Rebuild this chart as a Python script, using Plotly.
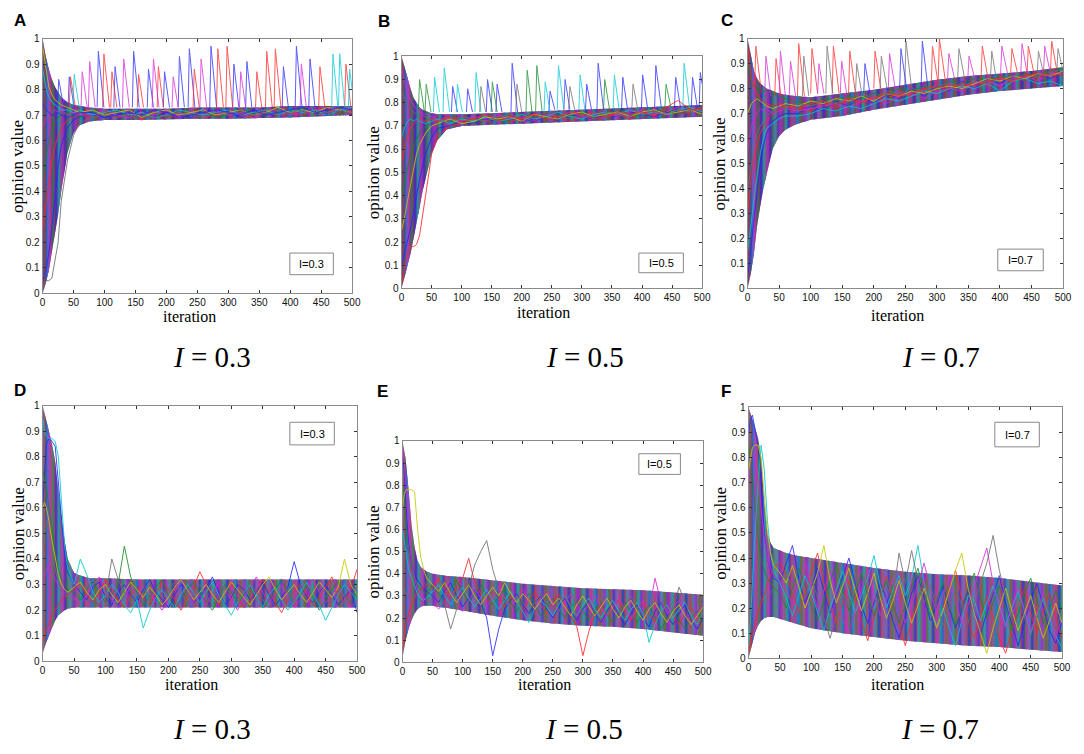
import plotly.graph_objects as go

# the page body keeps its 8px margin, so the figure is drawn 8px in from the window edge
PAGE_W, PAGE_H, BODY_MARGIN = 1084, 754, 8
W, H = PAGE_W - 2 * BODY_MARGIN, PAGE_H - 2 * BODY_MARGIN

ITER_TICKS = [0, 50, 100, 150, 200, 250, 300, 350, 400, 450, 500]
OPINION_TICKS = [0, 0.1, 0.2, 0.3, 0.4, 0.5, 0.6, 0.7, 0.8, 0.9, 1]
OPINION_LABELS = ["0", "0.1", "0.2", "0.3", "0.4", "0.5", "0.6", "0.7", "0.8", "0.9", "1"]

# iterations at which the envelope of all the opinion curves was read
ENV_X = [0, 5, 10, 15, 20, 25, 30, 35, 40, 50, 60, 75, 100, 150, 200, 250, 300, 350, 400, 450, 500]

A_UP = [1.0, 0.93, 0.88, 0.84, 0.81, 0.79, 0.77, 0.76, 0.75, 0.74, 0.735, 0.73, 0.725, 0.725, 0.725, 0.73, 0.73, 0.73, 0.735, 0.735, 0.735]
A_LO = [0.0, 0.04, 0.09, 0.17, 0.24, 0.31, 0.4, 0.48, 0.55, 0.63, 0.66, 0.675, 0.68, 0.68, 0.682, 0.685, 0.685, 0.688, 0.69, 0.695, 0.70]
B_UP = [1.0, 0.95, 0.9, 0.86, 0.82, 0.8, 0.78, 0.77, 0.765, 0.755, 0.75, 0.75, 0.75, 0.755, 0.76, 0.765, 0.77, 0.775, 0.78, 0.785, 0.79]
B_LO = [0.0, 0.05, 0.1, 0.15, 0.22, 0.28, 0.35, 0.42, 0.48, 0.58, 0.64, 0.685, 0.70, 0.705, 0.71, 0.715, 0.72, 0.725, 0.73, 0.735, 0.74]
C_UP = [1.0, 0.93, 0.87, 0.84, 0.82, 0.81, 0.8, 0.795, 0.79, 0.78, 0.775, 0.77, 0.765, 0.78, 0.795, 0.815, 0.835, 0.85, 0.86, 0.87, 0.885]
C_LO = [0.0, 0.06, 0.14, 0.25, 0.33, 0.4, 0.46, 0.51, 0.56, 0.61, 0.635, 0.655, 0.675, 0.69, 0.715, 0.735, 0.755, 0.775, 0.79, 0.80, 0.81]
D_UP = [1.0, 0.95, 0.9, 0.85, 0.78, 0.66, 0.56, 0.47, 0.4, 0.345, 0.335, 0.325, 0.325, 0.32, 0.32, 0.32, 0.32, 0.32, 0.32, 0.32, 0.32]
D_LO = [0.03, 0.07, 0.1, 0.13, 0.16, 0.18, 0.19, 0.2, 0.205, 0.21, 0.21, 0.21, 0.21, 0.21, 0.21, 0.21, 0.21, 0.21, 0.21, 0.21, 0.21]
E_UP = [1.0, 0.92, 0.78, 0.62, 0.52, 0.46, 0.43, 0.42, 0.41, 0.40, 0.395, 0.39, 0.385, 0.37, 0.355, 0.345, 0.335, 0.33, 0.325, 0.315, 0.305]
E_LO = [0.02, 0.1, 0.15, 0.19, 0.22, 0.24, 0.25, 0.255, 0.255, 0.255, 0.25, 0.245, 0.235, 0.21, 0.19, 0.175, 0.165, 0.16, 0.15, 0.135, 0.12]
F_UP = [1.0, 0.96, 0.92, 0.88, 0.8, 0.62, 0.5, 0.46, 0.44, 0.43, 0.42, 0.41, 0.4, 0.38, 0.36, 0.345, 0.335, 0.33, 0.32, 0.305, 0.29]
F_LO = [0.0, 0.05, 0.1, 0.13, 0.15, 0.16, 0.165, 0.165, 0.165, 0.16, 0.15, 0.14, 0.12, 0.1, 0.085, 0.07, 0.06, 0.05, 0.045, 0.035, 0.025]

# sample iterations for the individual agent curves
GRID_TOP = [0, 3, 6, 10, 15, 20, 25, 30, 40, 50, 60] + list(range(80, 501, 20))
GRID_BOTTOM = [0, 3, 6, 10, 15, 20, 25, 30, 35, 40, 50] + list(range(60, 501, 10))

A_LINES = [
    ("b", [0.05, 0.07, 0.1, 0.16, 0.26, 0.38, 0.5, 0.58, 0.65, 0.68, 0.695, 0.70, 0.69, 0.71, 0.70, 0.72, 0.69, 0.71, 0.70, 0.69, 0.72, 0.70, 0.71, 0.69, 0.72, 0.71, 0.70, 0.72, 0.71, 0.73, 0.70, 0.72, 0.71]),
    ("r", [0.25, 0.3, 0.36, 0.44, 0.52, 0.58, 0.62, 0.65, 0.68, 0.70, 0.71, 0.69, 0.71, 0.69, 0.70, 0.68, 0.71, 0.69, 0.70, 0.72, 0.69, 0.70, 0.71, 0.70, 0.69, 0.72, 0.70, 0.71, 0.70, 0.72, 0.73, 0.70, 0.72]),
    ("g", [0.45, 0.5, 0.55, 0.6, 0.64, 0.67, 0.69, 0.70, 0.71, 0.70, 0.69, 0.71, 0.70, 0.72, 0.69, 0.70, 0.71, 0.69, 0.72, 0.70, 0.71, 0.69, 0.70, 0.72, 0.71, 0.70, 0.72, 0.71, 0.73, 0.71, 0.72, 0.70, 0.73]),
    ("m", [0.65, 0.67, 0.69, 0.70, 0.71, 0.72, 0.71, 0.72, 0.70, 0.71, 0.70, 0.70, 0.72, 0.70, 0.69, 0.71, 0.70, 0.72, 0.69, 0.71, 0.70, 0.72, 0.70, 0.71, 0.69, 0.71, 0.72, 0.70, 0.71, 0.73, 0.71, 0.73, 0.72]),
    ("c", [0.88, 0.84, 0.8, 0.77, 0.75, 0.74, 0.73, 0.72, 0.72, 0.71, 0.72, 0.70, 0.71, 0.72, 0.70, 0.71, 0.69, 0.70, 0.72, 0.71, 0.70, 0.71, 0.72, 0.70, 0.71, 0.72, 0.70, 0.72, 0.71, 0.72, 0.70, 0.72, 0.73]),
    ("y", [0.97, 0.92, 0.86, 0.81, 0.78, 0.76, 0.75, 0.74, 0.73, 0.72, 0.71, 0.72, 0.70, 0.71, 0.72, 0.69, 0.71, 0.72, 0.70, 0.71, 0.72, 0.70, 0.71, 0.72, 0.70, 0.71, 0.73, 0.71, 0.72, 0.71, 0.73, 0.72, 0.71]),
    ("k", [0.02, 0.04, 0.05, 0.05, 0.06, 0.13, 0.2, 0.36, 0.52, 0.62, 0.67, 0.69, 0.70, 0.69, 0.71, 0.70, 0.69, 0.70, 0.71, 0.70, 0.69, 0.71, 0.70, 0.72, 0.70, 0.71, 0.70, 0.71, 0.72, 0.70, 0.71, 0.72, 0.71]),
    ("b", [0.75, 0.73, 0.72, 0.71, 0.70, 0.70, 0.71, 0.70, 0.69, 0.70, 0.71, 0.71, 0.69, 0.70, 0.71, 0.70, 0.72, 0.71, 0.69, 0.70, 0.71, 0.72, 0.71, 0.70, 0.72, 0.70, 0.71, 0.72, 0.73, 0.71, 0.72, 0.73, 0.72]),
]
B_LINES = [
    ("b", [0.1, 0.13, 0.16, 0.2, 0.26, 0.33, 0.4, 0.47, 0.58, 0.65, 0.69, 0.70, 0.72, 0.71, 0.73, 0.72, 0.74, 0.73, 0.72, 0.74, 0.73, 0.75, 0.74, 0.73, 0.75, 0.74, 0.76, 0.75, 0.74, 0.76, 0.75, 0.77, 0.76]),
    ("r", [0.02, 0.05, 0.1, 0.16, 0.18, 0.18, 0.19, 0.23, 0.4, 0.58, 0.66, 0.7, 0.71, 0.73, 0.72, 0.74, 0.72, 0.73, 0.75, 0.73, 0.74, 0.72, 0.74, 0.76, 0.74, 0.75, 0.73, 0.76, 0.75, 0.77, 0.75, 0.76, 0.78]),
    ("g", [0.4, 0.44, 0.48, 0.52, 0.57, 0.61, 0.64, 0.67, 0.7, 0.72, 0.73, 0.72, 0.73, 0.71, 0.74, 0.73, 0.72, 0.75, 0.74, 0.73, 0.75, 0.74, 0.76, 0.74, 0.75, 0.77, 0.75, 0.74, 0.76, 0.77, 0.75, 0.77, 0.76]),
    ("m", [0.95, 0.92, 0.88, 0.84, 0.81, 0.79, 0.77, 0.76, 0.75, 0.74, 0.73, 0.73, 0.72, 0.74, 0.73, 0.75, 0.73, 0.74, 0.72, 0.75, 0.74, 0.76, 0.74, 0.75, 0.76, 0.74, 0.76, 0.77, 0.75, 0.76, 0.78, 0.76, 0.77]),
    ("c", [0.65, 0.68, 0.7, 0.72, 0.73, 0.72, 0.73, 0.72, 0.71, 0.72, 0.73, 0.71, 0.73, 0.72, 0.74, 0.72, 0.73, 0.75, 0.73, 0.74, 0.76, 0.74, 0.73, 0.75, 0.76, 0.75, 0.77, 0.75, 0.76, 0.75, 0.77, 0.78, 0.76]),
    ("y", [0.25, 0.28, 0.32, 0.38, 0.45, 0.52, 0.58, 0.62, 0.67, 0.7, 0.71, 0.73, 0.71, 0.72, 0.74, 0.73, 0.74, 0.72, 0.75, 0.74, 0.73, 0.75, 0.76, 0.74, 0.75, 0.76, 0.74, 0.76, 0.77, 0.75, 0.76, 0.77, 0.75]),
    ("k", [0.85, 0.83, 0.81, 0.79, 0.77, 0.76, 0.75, 0.75, 0.74, 0.73, 0.72, 0.72, 0.74, 0.73, 0.72, 0.74, 0.75, 0.73, 0.74, 0.76, 0.74, 0.73, 0.75, 0.74, 0.76, 0.75, 0.74, 0.77, 0.76, 0.75, 0.77, 0.76, 0.78]),
    ("r", [0.55, 0.58, 0.62, 0.66, 0.69, 0.71, 0.72, 0.73, 0.72, 0.73, 0.72, 0.74, 0.72, 0.73, 0.75, 0.72, 0.74, 0.73, 0.75, 0.73, 0.74, 0.76, 0.75, 0.73, 0.74, 0.76, 0.75, 0.76, 0.74, 0.78, 0.81, 0.77, 0.77]),
]
C_LINES = [
    ("b", [0.05, 0.1, 0.18, 0.28, 0.4, 0.5, 0.57, 0.62, 0.67, 0.69, 0.7, 0.7, 0.73, 0.71, 0.75, 0.73, 0.77, 0.74, 0.78, 0.76, 0.8, 0.77, 0.81, 0.79, 0.83, 0.8, 0.84, 0.82, 0.85, 0.83, 0.86, 0.84, 0.87]),
    ("r", [0.3, 0.38, 0.45, 0.52, 0.58, 0.62, 0.65, 0.67, 0.7, 0.72, 0.73, 0.72, 0.71, 0.74, 0.72, 0.76, 0.74, 0.77, 0.75, 0.79, 0.77, 0.8, 0.78, 0.82, 0.8, 0.83, 0.81, 0.85, 0.83, 0.86, 0.84, 0.87, 0.85]),
    ("g", [0.9, 0.86, 0.83, 0.81, 0.8, 0.8, 0.79, 0.79, 0.78, 0.77, 0.76, 0.74, 0.74, 0.76, 0.75, 0.77, 0.76, 0.78, 0.77, 0.8, 0.79, 0.81, 0.8, 0.83, 0.82, 0.84, 0.83, 0.85, 0.84, 0.86, 0.85, 0.87, 0.88]),
    ("m", [0.55, 0.6, 0.65, 0.68, 0.7, 0.72, 0.71, 0.72, 0.7, 0.71, 0.72, 0.71, 0.72, 0.73, 0.74, 0.72, 0.75, 0.76, 0.74, 0.77, 0.78, 0.76, 0.79, 0.8, 0.79, 0.82, 0.83, 0.81, 0.84, 0.85, 0.83, 0.86, 0.86]),
    ("c", [0.15, 0.2, 0.27, 0.36, 0.46, 0.54, 0.6, 0.64, 0.66, 0.68, 0.69, 0.69, 0.7, 0.72, 0.71, 0.73, 0.72, 0.74, 0.76, 0.75, 0.77, 0.79, 0.78, 0.8, 0.81, 0.8, 0.82, 0.79, 0.83, 0.84, 0.82, 0.83, 0.81]),
    ("y", [0.7, 0.72, 0.74, 0.75, 0.76, 0.75, 0.74, 0.73, 0.72, 0.73, 0.74, 0.73, 0.75, 0.74, 0.76, 0.75, 0.77, 0.75, 0.78, 0.77, 0.79, 0.78, 0.8, 0.81, 0.8, 0.82, 0.84, 0.83, 0.85, 0.84, 0.86, 0.85, 0.87]),
    ("k", [0.4, 0.45, 0.5, 0.56, 0.62, 0.65, 0.67, 0.69, 0.71, 0.73, 0.72, 0.74, 0.73, 0.75, 0.74, 0.76, 0.78, 0.76, 0.79, 0.78, 0.8, 0.79, 0.81, 0.82, 0.81, 0.83, 0.82, 0.84, 0.85, 0.83, 0.85, 0.86, 0.88]),
    ("r", [0.97, 0.9, 0.84, 0.8, 0.78, 0.76, 0.75, 0.74, 0.73, 0.74, 0.73, 0.72, 0.74, 0.75, 0.73, 0.76, 0.75, 0.76, 0.78, 0.77, 0.78, 0.8, 0.81, 0.8, 0.82, 0.81, 0.83, 0.84, 0.83, 0.85, 0.86, 0.85, 0.86]),
]
D_LINES = [
    ("b", [0.6, 0.75, 0.85, 0.87, 0.86, 0.84, 0.7, 0.55, 0.42, 0.35, 0.3,
           0.27, 0.24, 0.29, 0.31, 0.25, 0.22, 0.27, 0.3, 0.26, 0.23, 0.28, 0.32, 0.27, 0.24, 0.21, 0.26, 0.3, 0.28, 0.23, 0.25,
           0.29, 0.33, 0.27, 0.22, 0.25, 0.3, 0.28, 0.24, 0.27, 0.31, 0.26, 0.22, 0.25, 0.29, 0.39, 0.3, 0.25, 0.23, 0.27, 0.3,
           0.26, 0.22, 0.25, 0.28, 0.19]),
    ("r", [0.08, 0.1, 0.12, 0.15, 0.18, 0.2, 0.22, 0.24, 0.25, 0.26, 0.28,
           0.3, 0.26, 0.23, 0.27, 0.32, 0.28, 0.24, 0.21, 0.26, 0.29, 0.25, 0.22, 0.27, 0.31, 0.28, 0.24, 0.2, 0.25, 0.29, 0.35,
           0.3, 0.26, 0.22, 0.27, 0.31, 0.25, 0.21, 0.24, 0.28, 0.32, 0.27, 0.23, 0.19, 0.24, 0.28, 0.3, 0.26, 0.22, 0.25, 0.29,
           0.33, 0.27, 0.23, 0.28, 0.36]),
    ("g", [0.75, 0.72, 0.68, 0.6, 0.5, 0.42, 0.36, 0.32, 0.3, 0.28, 0.27,
           0.24, 0.28, 0.31, 0.27, 0.23, 0.26, 0.3, 0.45, 0.33, 0.27, 0.22, 0.25, 0.29, 0.32, 0.26, 0.21, 0.24, 0.28, 0.31, 0.27,
           0.23, 0.2, 0.25, 0.3, 0.27, 0.23, 0.26, 0.29, 0.25, 0.21, 0.24, 0.28, 0.32, 0.27, 0.23, 0.26, 0.3, 0.25, 0.2, 0.24,
           0.28, 0.31, 0.26, 0.23, 0.27]),
    ("c", [0.95, 0.9, 0.88, 0.87, 0.87, 0.86, 0.8, 0.62, 0.45, 0.36, 0.3,
           0.4, 0.34, 0.27, 0.23, 0.26, 0.3, 0.27, 0.22, 0.19, 0.24, 0.13, 0.2, 0.25, 0.28, 0.24, 0.21, 0.26, 0.3, 0.27, 0.23,
           0.27, 0.31, 0.26, 0.22, 0.18, 0.23, 0.27, 0.3, 0.25, 0.21, 0.26, 0.29, 0.24, 0.2, 0.23, 0.27, 0.31, 0.26, 0.22, 0.16,
           0.21, 0.26, 0.3, 0.27, 0.24]),
    ("m", [0.3, 0.33, 0.36, 0.38, 0.35, 0.32, 0.3, 0.28, 0.27, 0.26, 0.25,
           0.22, 0.26, 0.3, 0.33, 0.28, 0.24, 0.21, 0.25, 0.29, 0.26, 0.3, 0.27, 0.23, 0.2, 0.24, 0.28, 0.32, 0.27, 0.23, 0.26,
           0.22, 0.26, 0.31, 0.28, 0.24, 0.2, 0.25, 0.29, 0.33, 0.27, 0.23, 0.26, 0.3, 0.25, 0.21, 0.24, 0.28, 0.32, 0.27, 0.23,
           0.26, 0.3, 0.25, 0.21, 0.24]),
    ("y", [0.6, 0.62, 0.6, 0.55, 0.47, 0.4, 0.34, 0.3, 0.28, 0.27, 0.29,
           0.31, 0.27, 0.24, 0.28, 0.3, 0.26, 0.23, 0.27, 0.31, 0.28, 0.25, 0.29, 0.26, 0.22, 0.25, 0.29, 0.32, 0.28, 0.24, 0.27,
           0.3, 0.26, 0.23, 0.27, 0.31, 0.28, 0.25, 0.22, 0.26, 0.3, 0.33, 0.28, 0.24, 0.27, 0.3, 0.26, 0.23, 0.27, 0.31, 0.28,
           0.25, 0.29, 0.4, 0.3, 0.26]),
    ("k", [0.45, 0.5, 0.55, 0.5, 0.42, 0.36, 0.31, 0.28, 0.26, 0.25, 0.24,
           0.27, 0.3, 0.26, 0.22, 0.25, 0.4, 0.32, 0.27, 0.23, 0.26, 0.29, 0.25, 0.21, 0.24, 0.28, 0.31, 0.27, 0.23, 0.26, 0.3,
           0.26, 0.22, 0.25, 0.29, 0.26, 0.23, 0.27, 0.31, 0.27, 0.24, 0.21, 0.25, 0.29, 0.27, 0.23, 0.26, 0.3, 0.27, 0.23, 0.25,
           0.29, 0.26, 0.22, 0.25, 0.29]),
]
E_LINES = [
    ("b", [0.95, 0.85, 0.7, 0.55, 0.45, 0.4, 0.37, 0.35, 0.33, 0.32, 0.3,
           0.27, 0.32, 0.36, 0.3, 0.25, 0.29, 0.33, 0.27, 0.2, 0.03, 0.15, 0.24, 0.28, 0.31, 0.26, 0.22, 0.27, 0.3, 0.24, 0.2,
           0.25, 0.29, 0.23, 0.19, 0.24, 0.28, 0.22, 0.18, 0.23, 0.27, 0.21, 0.17, 0.22, 0.26, 0.2, 0.16, 0.23, 0.27, 0.21, 0.17,
           0.22, 0.26, 0.19, 0.15, 0.2]),
    ("r", [0.05, 0.12, 0.18, 0.22, 0.26, 0.29, 0.31, 0.33, 0.34, 0.35, 0.34,
           0.38, 0.33, 0.29, 0.34, 0.38, 0.47, 0.36, 0.31, 0.27, 0.32, 0.29, 0.25, 0.3, 0.27, 0.23, 0.28, 0.32, 0.26, 0.22, 0.27,
           0.31, 0.25, 0.21, 0.16, 0.03, 0.14, 0.22, 0.26, 0.21, 0.25, 0.28, 0.23, 0.19, 0.24, 0.27, 0.22, 0.18, 0.23, 0.26, 0.21,
           0.17, 0.22, 0.25, 0.19, 0.16]),
    ("g", [0.8, 0.75, 0.62, 0.5, 0.42, 0.38, 0.35, 0.33, 0.32, 0.31, 0.35,
           0.31, 0.28, 0.33, 0.37, 0.32, 0.27, 0.31, 0.35, 0.3, 0.26, 0.3, 0.33, 0.27, 0.23, 0.28, 0.31, 0.26, 0.21, 0.25, 0.29,
           0.24, 0.2, 0.25, 0.28, 0.23, 0.19, 0.24, 0.27, 0.22, 0.18, 0.23, 0.27, 0.22, 0.18, 0.22, 0.26, 0.2, 0.15, 0.2, 0.24,
           0.19, 0.15, 0.2, 0.23, 0.18]),
    ("c", [0.6, 0.55, 0.48, 0.42, 0.38, 0.34, 0.31, 0.29, 0.28, 0.29, 0.32,
           0.35, 0.3, 0.26, 0.3, 0.34, 0.29, 0.25, 0.29, 0.33, 0.28, 0.24, 0.28, 0.32, 0.27, 0.23, 0.18, 0.24, 0.28, 0.25, 0.21,
           0.26, 0.3, 0.25, 0.21, 0.26, 0.29, 0.24, 0.2, 0.25, 0.28, 0.23, 0.19, 0.24, 0.27, 0.22, 0.09, 0.17, 0.23, 0.26, 0.2,
           0.24, 0.27, 0.21, 0.17, 0.23]),
    ("m", [0.98, 0.9, 0.78, 0.6, 0.46, 0.38, 0.33, 0.3, 0.29, 0.28, 0.27,
           0.24, 0.28, 0.32, 0.27, 0.23, 0.28, 0.33, 0.29, 0.25, 0.3, 0.34, 0.29, 0.25, 0.29, 0.33, 0.28, 0.24, 0.29, 0.32, 0.27,
           0.23, 0.27, 0.31, 0.26, 0.22, 0.26, 0.3, 0.25, 0.21, 0.25, 0.29, 0.24, 0.2, 0.24, 0.28, 0.23, 0.38, 0.27, 0.22, 0.25,
           0.28, 0.22, 0.18, 0.22, 0.26]),
    ("y", [0.7, 0.76, 0.78, 0.78, 0.78, 0.77, 0.6, 0.48, 0.42, 0.38, 0.35,
           0.32, 0.36, 0.31, 0.27, 0.31, 0.35, 0.3, 0.26, 0.3, 0.34, 0.3, 0.36, 0.31, 0.27, 0.31, 0.28, 0.24, 0.28, 0.31, 0.26,
           0.29, 0.25, 0.21, 0.26, 0.3, 0.25, 0.21, 0.25, 0.29, 0.24, 0.2, 0.25, 0.28, 0.23, 0.19, 0.24, 0.27, 0.22, 0.18, 0.23,
           0.26, 0.21, 0.17, 0.21, 0.25]),
    ("k", [0.35, 0.33, 0.31, 0.3, 0.29, 0.3, 0.32, 0.34, 0.36, 0.35, 0.33,
           0.3, 0.26, 0.15, 0.24, 0.3, 0.34, 0.44, 0.5, 0.55, 0.42, 0.33, 0.29, 0.25, 0.3, 0.27, 0.23, 0.27, 0.31, 0.26, 0.22,
           0.27, 0.3, 0.25, 0.21, 0.25, 0.28, 0.23, 0.19, 0.24, 0.27, 0.22, 0.26, 0.3, 0.25, 0.21, 0.25, 0.28, 0.23, 0.19, 0.24,
           0.34, 0.27, 0.22, 0.18, 0.23]),
]
F_LINES = [
    ("b", [0.9, 0.95, 0.97, 0.92, 0.85, 0.7, 0.5, 0.4, 0.35, 0.32, 0.3,
           0.38, 0.45, 0.32, 0.22, 0.28, 0.36, 0.27, 0.18, 0.25, 0.33, 0.4, 0.3, 0.21, 0.14, 0.22, 0.3, 0.24, 0.15, 0.08, 0.17,
           0.26, 0.33, 0.24, 0.15, 0.21, 0.29, 0.2, 0.12, 0.19, 0.27, 0.19, 0.1, 0.18, 0.26, 0.33, 0.22, 0.13, 0.05, 0.14, 0.23,
           0.3, 0.2, 0.11, 0.06, 0.15]),
    ("r", [0.02, 0.06, 0.1, 0.14, 0.18, 0.22, 0.26, 0.3, 0.33, 0.36, 0.38,
           0.33, 0.25, 0.18, 0.27, 0.35, 0.42, 0.3, 0.21, 0.14, 0.22, 0.31, 0.23, 0.15, 0.07, 0.16, 0.25, 0.33, 0.22, 0.13, 0.05,
           0.15, 0.24, 0.31, 0.21, 0.12, 0.2, 0.28, 0.35, 0.24, 0.15, 0.08, 0.17, 0.25, 0.16, 0.08, 0.02, 0.12, 0.21, 0.28, 0.18,
           0.1, 0.19, 0.26, 0.16, 0.08]),
    ("g", [0.85, 0.8, 0.72, 0.6, 0.48, 0.4, 0.35, 0.32, 0.3, 0.28, 0.26,
           0.2, 0.28, 0.36, 0.29, 0.21, 0.15, 0.23, 0.31, 0.38, 0.27, 0.19, 0.26, 0.34, 0.25, 0.17, 0.24, 0.31, 0.22, 0.14, 0.21,
           0.29, 0.36, 0.26, 0.17, 0.23, 0.3, 0.21, 0.13, 0.2, 0.28, 0.34, 0.24, 0.16, 0.22, 0.29, 0.2, 0.11, 0.18, 0.26, 0.32,
           0.23, 0.14, 0.2, 0.27, 0.19]),
    ("c", [0.05, 0.15, 0.3, 0.5, 0.7, 0.85, 0.75, 0.55, 0.42, 0.35, 0.3,
           0.24, 0.17, 0.25, 0.33, 0.26, 0.18, 0.11, 0.2, 0.28, 0.35, 0.26, 0.18, 0.25, 0.32, 0.41, 0.29, 0.2, 0.27, 0.33, 0.25,
           0.32, 0.45, 0.3, 0.2, 0.13, 0.2, 0.12, 0.05, 0.15, 0.25, 0.23, 0.15, 0.22, 0.29, 0.21, 0.13, 0.2, 0.27, 0.19, 0.1,
           0.17, 0.24, 0.16, 0.09, 0.04]),
    ("m", [0.7, 0.78, 0.82, 0.8, 0.72, 0.6, 0.48, 0.4, 0.36, 0.33, 0.31,
           0.28, 0.21, 0.3, 0.38, 0.29, 0.2, 0.27, 0.35, 0.25, 0.16, 0.1, 0.19, 0.27, 0.36, 0.26, 0.17, 0.24, 0.32, 0.23, 0.14,
           0.21, 0.3, 0.38, 0.27, 0.18, 0.25, 0.33, 0.23, 0.14, 0.21, 0.29, 0.36, 0.44, 0.3, 0.2, 0.12, 0.21, 0.28, 0.19, 0.11,
           0.18, 0.26, 0.17, 0.09, 0.16]),
    ("y", [0.75, 0.8, 0.84, 0.85, 0.85, 0.8, 0.65, 0.5, 0.42, 0.37, 0.34,
           0.3, 0.37, 0.28, 0.2, 0.27, 0.34, 0.45, 0.31, 0.22, 0.29, 0.36, 0.27, 0.19, 0.26, 0.34, 0.24, 0.16, 0.23, 0.31, 0.22,
           0.14, 0.21, 0.28, 0.2, 0.12, 0.19, 0.27, 0.35, 0.42, 0.28, 0.18, 0.1, 0.02, 0.12, 0.2, 0.28, 0.19, 0.11, 0.18, 0.25,
           0.16, 0.08, 0.15, 0.22, 0.14]),
    ("k", [0.3, 0.28, 0.27, 0.26, 0.25, 0.24, 0.23, 0.24, 0.26, 0.28, 0.3,
           0.35, 0.27, 0.19, 0.25, 0.32, 0.24, 0.16, 0.08, 0.17, 0.26, 0.2, 0.28, 0.35, 0.26, 0.18, 0.25, 0.32, 0.24, 0.42, 0.3,
           0.43, 0.31, 0.22, 0.29, 0.21, 0.13, 0.2, 0.28, 0.21, 0.14, 0.22, 0.3, 0.38, 0.49, 0.35, 0.25, 0.17, 0.24, 0.16, 0.09,
           0.17, 0.25, 0.18, 0.11, 0.2]),
]

# occasional excursions above the consensus band: (start x, start y, peak x, peak y, end x, end y)
A_SPIKES = [
    ("b", [(24, .73, 26, .84, 34, .73), (41, .73, 43, .85, 51, .73), (88, .73, 90, .95, 99, .73), (115, .73, 117, .89, 125, .73),
           (145, .73, 147, .95, 156, .73), (169, .73, 171, .88, 179, .73), (195, .73, 197, .87, 205, .73), (219, .73, 221, .93, 229, .73),
           (235, .73, 237, .96, 246, .73), (270, .73, 272, .97, 281, .73), (307, .73, 309, .90, 317, .73), (328, .73, 330, .91, 338, .73),
           (387, .73, 389, .89, 397, .73), (408, .73, 410, .97, 419, .73), (430, .73, 432, .92, 440, .73)]),
    ("r", [(43, .73, 45, .85, 53, .73), (97, .73, 99, .94, 108, .73), (110, .73, 112, .87, 120, .73), (153, .73, 155, .86, 163, .73),
           (185, .73, 187, .89, 195, .73), (243, .73, 245, .88, 253, .73), (281, .73, 283, .96, 292, .73), (296, .73, 298, .97, 307, .73),
           (344, .73, 346, .87, 354, .73), (360, .73, 362, .95, 371, .73), (374, .73, 376, .96, 385, .73), (446, .73, 448, .89, 456, .73),
           (488, .73, 490, .90, 498, .73)]),
    ("m", [(62, .73, 64, .87, 72, .73), (74, .73, 76, .91, 85, .73), (129, .73, 131, .92, 140, .73), (177, .73, 179, .92, 188, .73),
           (209, .73, 211, .85, 219, .73), (254, .73, 256, .92, 265, .73), (318, .73, 320, .87, 328, .73), (416, .73, 418, .90, 426, .73)]),
    ("c", [(49, .73, 51, .86, 59, .73), (467, .73, 469, .94, 477, .73), (478, .73, 480, .94, 488, .73), (494, .73, 496, .88, 500, .80)]),
]
B_SPIKES = [
    ("b", [(83, .76, 85, .87, 93, .76), (108, .76, 110, .86, 118, .76), (141, .76, 143, .90, 151, .76), (157, .76, 159, .88, 167, .76),
           (182, .76, 184, .97, 193, .76), (245, .76, 247, .85, 255, .77), (270, .77, 272, .90, 280, .77), (306, .77, 308, .88, 316, .77),
           (325, .77, 327, .97, 336, .77), (366, .77, 368, .91, 376, .77), (399, .77, 401, .92, 409, .78), (421, .78, 423, .96, 432, .78),
           (454, .78, 456, .91, 464, .78), (482, .78, 484, .91, 492, .78), (495, .78, 497, .93, 500, .88)]),
    ("c", [(53, .76, 55, .91, 63, .76), (69, .76, 71, .95, 80, .76), (91, .76, 93, .88, 101, .76), (122, .76, 124, .93, 132, .76),
           (237, .76, 239, .89, 247, .76), (259, .77, 261, .96, 270, .77), (295, .77, 297, .92, 305, .77), (352, .77, 354, .92, 362, .77),
           (468, .78, 470, .97, 479, .78)]),
    ("g", [(28, .77, 30, .90, 38, .76), (39, .76, 41, .88, 49, .76), (149, .76, 151, .89, 159, .76), (207, .76, 209, .94, 217, .76),
           (223, .76, 225, .96, 234, .76), (336, .77, 338, .90, 346, .77), (438, .78, 440, .88, 448, .78)]),
    ("k", [(130, .76, 132, .87, 140, .76), (190, .76, 192, .88, 200, .76), (278, .77, 280, .87, 288, .77), (383, .77, 385, .88, 393, .77)]),
]
C_SPIKES = [
    ("r", [(11, .80, 13, .97, 22, .78), (43, .77, 45, .92, 53, .77), (79, .77, 81, .98, 90, .77), (100, .78, 102, .96, 111, .78),
           (134, .78, 136, .97, 145, .78), (160, .78, 162, .95, 171, .78), (200, .80, 202, .95, 211, .80), (291, .80, 293, .97, 302, .82),
           (302, .82, 304, 1.0, 313, .84), (370, .84, 372, .97, 381, .84), (417, .86, 419, .96, 428, .86), (443, .86, 445, .97, 454, .86),
           (480, .86, 482, .99, 491, .86)]),
    ("m", [(27, .77, 29, .93, 37, .77), (50, .77, 52, .95, 60, .77), (66, .77, 68, .91, 76, .77), (111, .78, 113, .90, 121, .78),
           (147, .78, 149, .91, 157, .78), (223, .80, 225, .94, 234, .80), (317, .84, 319, .94, 328, .84), (349, .84, 351, .93, 360, .84),
           (401, .86, 403, .97, 412, .86), (433, .86, 435, .98, 443, .86), (469, .86, 471, .97, 480, .86)]),
    ("k", [(87, .77, 89, .93, 97, .77), (124, .78, 126, .97, 135, .78), (171, .78, 173, .90, 181, .78), (210, .80, 212, .93, 221, .80),
           (249, .80, 251, .99, 260, .80), (333, .84, 335, .96, 344, .84), (385, .84, 387, .95, 394, .84), (459, .86, 461, .95, 469, .86),
           (490, .86, 492, .96, 500, .87)]),
    ("b", [(184, .78, 186, .90, 194, .78), (241, .80, 243, .96, 252, .80), (275, .80, 277, .99, 286, .80)]),
]

LINE_COLORS = {
    "b": "rgb(40,40,255)", "g": "rgb(20,140,40)", "r": "rgb(255,40,40)", "c": "rgb(0,200,210)",
    "m": "rgb(215,40,215)", "y": "rgb(200,200,0)", "k": "rgb(110,110,110)",
}
# thin vertical strokes of the many overlapping curves inside the band
BAND_STROKES = [("|", "rgb(245,30,30)", 5, 0.4), ("|", "rgb(20,150,40)", 7, 0.35),
                ("|", "rgb(30,30,245)", 9, 0.35), ("|", "rgb(0,190,200)", 11, 0.3),
                ("|", "rgb(210,40,210)", 13, 0.3)]

# pixel boxes of the six plot areas in the reference (left, top, right, bottom)
PANELS = [
    dict(letter="A", box=(40, 33, 353, 292), up=A_UP, lo=A_LO, grid=GRID_TOP, lines=A_LINES, spikes=A_SPIKES,
         fill="rgb(100,70,135)", legend="I=0.3", legbox=(290, 251, 334, 273), ytitle_x=15, xtitle_y=316, letter_xy=(17, 15)),
    dict(letter="B", box=(403, 51, 707, 287), up=B_UP, lo=B_LO, grid=GRID_TOP, lines=B_LINES, spikes=B_SPIKES,
         fill="rgb(100,70,135)", legend="I=0.5", legbox=(643, 251, 688, 271), ytitle_x=375, xtitle_y=311, letter_xy=(385, 16)),
    dict(letter="C", box=(753, 33, 1072, 287), up=C_UP, lo=C_LO, grid=GRID_TOP, lines=C_LINES, spikes=C_SPIKES,
         fill="rgb(100,70,135)", legend="I=0.7", legbox=(1006, 247, 1052, 269), ytitle_x=725, xtitle_y=314, letter_xy=(732, 15)),
    dict(letter="D", box=(40, 406, 358, 666), up=D_UP, lo=D_LO, grid=GRID_BOTTOM, lines=D_LINES, spikes=[],
         fill="rgb(125,100,145)", legend="I=0.3", legbox=(290, 423, 335, 446), ytitle_x=15, xtitle_y=690, letter_xy=(17, 391)),
    dict(letter="E", box=(404, 442, 708, 667), up=E_UP, lo=E_LO, grid=GRID_BOTTOM, lines=E_LINES, spikes=[],
         fill="rgb(125,100,145)", legend="I=0.5", legbox=(643, 455, 685, 476), ytitle_x=375, xtitle_y=690, letter_xy=(384, 392)),
    dict(letter="F", box=(754, 408, 1071, 663), up=F_UP, lo=F_LO, grid=GRID_BOTTOM, lines=F_LINES, spikes=[],
         fill="rgb(125,100,145)", legend="I=0.7", legbox=(1003, 423, 1048, 448), ytitle_x=726, xtitle_y=690, letter_xy=(731, 392)),
]

CAPTIONS = [("0.3", 211, 357), ("0.5", 589, 357), ("0.7", 949, 357),
            ("0.3", 211, 735), ("0.5", 588, 735), ("0.7", 948, 735)]


def px(x):
    return (x - BODY_MARGIN) / W


def py(y):
    return 1 - (y - BODY_MARGIN) / H


def spike_path(spikes):
    xs, ys = [], []
    for x0, y0, xp, yp, x1, y1 in spikes:
        xs += [x0, xp, x1, None]
        ys += [y0, yp, y1, None]
    return xs, ys


fig = go.Figure()
layout = {}
annotations = []
shapes = []

for i, p in enumerate(PANELS, start=1):
    suffix = "" if i == 1 else str(i)
    xa, ya = "x" + suffix, "y" + suffix
    band_x = ENV_X + ENV_X[::-1]
    band_y = p["up"] + p["lo"][::-1]

    # dense consensus band formed by the bulk of the curves
    fig.add_trace(go.Scatter(
        x=band_x, y=band_y, fill="toself", fillcolor=p["fill"], line=dict(width=0),
        mode="lines", xaxis=xa, yaxis=ya, hoverinfo="skip", showlegend=False,
    ))
    for shape, color, size, solidity in BAND_STROKES:
        fig.add_trace(go.Scatter(
            x=band_x, y=band_y, fill="toself", fillcolor="rgba(0,0,0,0)",
            line=dict(width=0), mode="lines",
            fillpattern=dict(shape=shape, fgcolor=color, bgcolor="rgba(0,0,0,0)",
                             size=size, solidity=solidity),
            xaxis=xa, yaxis=ya, hoverinfo="skip", showlegend=False,
        ))
    for key, spikes in p["spikes"]:
        xs, ys = spike_path(spikes)
        fig.add_trace(go.Scatter(
            x=xs, y=ys, mode="lines", line=dict(color=LINE_COLORS[key], width=1),
            opacity=0.75, xaxis=xa, yaxis=ya, showlegend=False, hoverinfo="skip",
        ))
    for key, vals in p["lines"]:
        fig.add_trace(go.Scatter(
            x=p["grid"][:len(vals)], y=vals, mode="lines",
            line=dict(color=LINE_COLORS[key], width=1),
            opacity=0.85, xaxis=xa, yaxis=ya, showlegend=False, hoverinfo="skip",
        ))

    left, top, right, bottom = p["box"]
    axis_common = dict(
        showline=True, linecolor="#8a8a8a", linewidth=1, mirror="ticks",
        ticks="inside", ticklen=3, tickcolor="#333", tickwidth=1,
        showgrid=False, zeroline=False, fixedrange=True,
        tickfont=dict(family="Liberation Sans, Arial", size=10, color="#111"),
    )
    layout["xaxis" + suffix] = dict(
        axis_common, domain=[px(left), px(right)], anchor=ya, range=[0, 500],
        tickmode="array", tickvals=ITER_TICKS,
    )
    layout["yaxis" + suffix] = dict(
        axis_common, domain=[py(bottom), py(top)], anchor=xa, range=[0, 1],
        tickmode="array", tickvals=OPINION_TICKS, ticktext=OPINION_LABELS,
    )

    lx, ly = p["letter_xy"]
    annotations.append(dict(
        x=px(lx), y=py(ly), xref="paper", yref="paper", text="<b>" + p["letter"] + "</b>",
        showarrow=False, xanchor="center", yanchor="middle",
        font=dict(family="Liberation Sans, Arial", size=17, color="black"),
    ))
    annotations.append(dict(
        x=px(p["ytitle_x"]), y=py((top + bottom) / 2), xref="paper", yref="paper",
        text="opinion value", textangle=-90, showarrow=False, xanchor="center", yanchor="middle",
        font=dict(family="Liberation Serif, Times New Roman", size=17, color="black"),
    ))
    annotations.append(dict(
        x=px((left + right) / 2 - 8), y=py(p["xtitle_y"]), xref="paper", yref="paper",
        text="iteration", showarrow=False, xanchor="center", yanchor="middle",
        font=dict(family="Liberation Serif, Times New Roman", size=16, color="black"),
    ))

    bx0, by0, bx1, by1 = p["legbox"]
    shapes.append(dict(
        type="rect", xref="paper", yref="paper", x0=px(bx0), x1=px(bx1), y0=py(by1), y1=py(by0),
        line=dict(color="#888", width=1), fillcolor="white", layer="above",
    ))
    annotations.append(dict(
        x=px((bx0 + bx1) / 2), y=py((by0 + by1) / 2), xref="paper", yref="paper",
        text=p["legend"], showarrow=False, xanchor="center", yanchor="middle",
        font=dict(family="Liberation Sans, Arial", size=11, color="black"),
    ))

for value, cx, cy in CAPTIONS:
    annotations.append(dict(
        x=px(cx), y=py(cy), xref="paper", yref="paper",
        text="<i>I</i> = " + value, showarrow=False, xanchor="center", yanchor="middle",
        font=dict(family="Liberation Serif, Times New Roman", size=29, color="black"),
    ))

fig.update_layout(
    width=W, height=H, margin=dict(l=0, r=0, t=0, b=0),
    paper_bgcolor="white", plot_bgcolor="white",
    annotations=annotations, shapes=shapes, **layout,
)

fig.write_html("out.html")
